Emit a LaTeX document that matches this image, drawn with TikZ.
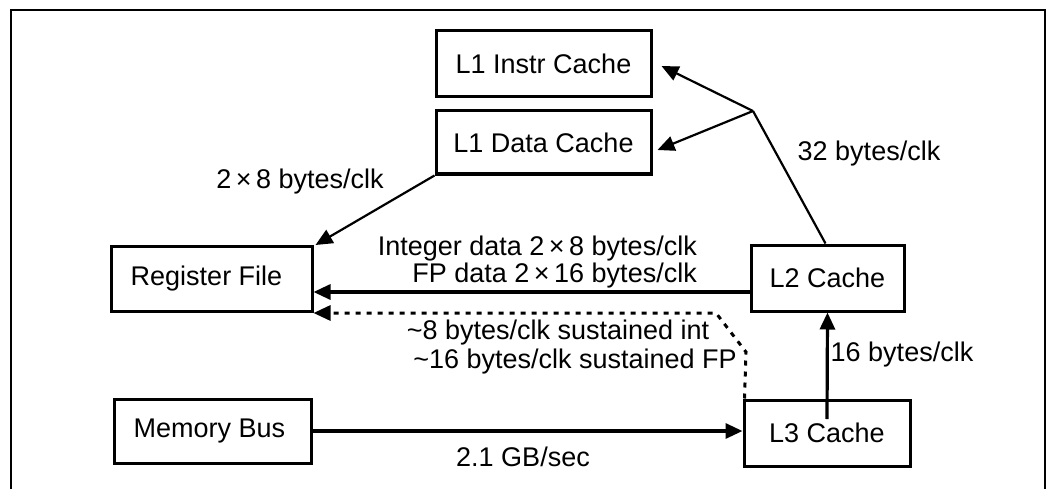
\documentclass[tikz,border=0pt]{standalone}
\usepackage{fontspec}
\setmainfont{Liberation Sans}
\usetikzlibrary{arrows.meta,calc}
\begin{document}
\begin{tikzpicture}[x=1pt,y=-1pt,
  font=\fontsize{27}{31}\selectfont,
  box/.style={draw,line width=3pt,inner sep=0pt},
  lbl/.style={inner sep=0pt},
  tip/.style={-{Triangle[length=17pt,width=15pt]}},
  thinline/.style={line width=2.2pt},
  thickline/.style={line width=3.2pt},
  dotline/.style={line width=3pt,dash pattern=on 5pt off 6pt}]
\useasboundingbox (0,0) rectangle (1056,489);
% frame
\draw[line width=2pt] (11,489) -- (11,10) -- (1045,10) -- (1045,489);
% boxes
\node[box,minimum width=215pt,minimum height=66pt] (l1i) at (543.5,64) {L1 Instr Cache};
\node[box,minimum width=215pt,minimum height=63pt] (l1d) at (543.5,142.5) {L1 Data Cache};
\node[box,minimum width=201pt,minimum height=65pt] (reg) at (211.5,279) {\hspace*{-10pt}Register File};
\node[box,minimum width=153pt,minimum height=66pt] (l2) at (827.5,278) {L2 Cache};
\node[box,minimum width=197pt,minimum height=64pt] (mem) at (212.5,431) {\hspace*{-6pt}Memory Bus};
\node[box,minimum width=166pt,minimum height=66pt] (l3) at (827,433) {L3 Cache};
% coordinates
\coordinate (br) at (753,111);
\coordinate (l1itip) at ($(l1i.east)+(9,2)$);
\coordinate (l1dtip) at ($(l1d.east)+(5,7.5)$);
\coordinate (l2left) at ($(l2.west)+(0,14)$);
\coordinate (dotA) at ($(l3.north west)+(2,0)$);
\coordinate (dotB) at (746,352);
\coordinate (dotC) at (716,313);
\coordinate (l3in) at ($(l3.center)+(0,-14)$);
% connectors
\draw[thinline] ([xshift=-2pt]l2.north) -- (br);
\draw[thinline,tip] (br) -- (l1itip);
\draw[thinline,tip] (br) -- (l1dtip);
\draw[thinline,tip] (l1d.south west) -- ($(reg.north east)+(2,0)$);
\draw[thickline,tip] (l2left) -- (reg.east |- l2left);
\draw[dotline,tip] (dotA) -- (dotB) -- (dotC) -- (reg.east |- dotC);
\draw[thickline,tip] (l3in) -- (l2.south);
\draw[thickline,tip] (mem.east) -- (mem.east -| l3.west);
% labels
\node[lbl] (t1) at (300,182) {2\,×\,8 bytes/clk};
\node[lbl] (t2) at (869,154) {32 bytes/clk};
\node[lbl,anchor=east] (t3) at (697,249) {Integer data 2\,×\,8 bytes/clk};
\node[lbl,anchor=east] (t4) at (697,276) {FP data 2\,×\,16 bytes/clk};
\node[lbl] (t5) at (558,333) {\textasciitilde 8 bytes/clk sustained int};
\node[lbl] (t6) at (575,362) {\textasciitilde 16 bytes/clk sustained FP};
\node[lbl] (t7) at (902,355) {16 bytes/clk};
\node[lbl] (t8) at (523,457) {2.1 GB/sec};
\end{tikzpicture}
\end{document}
